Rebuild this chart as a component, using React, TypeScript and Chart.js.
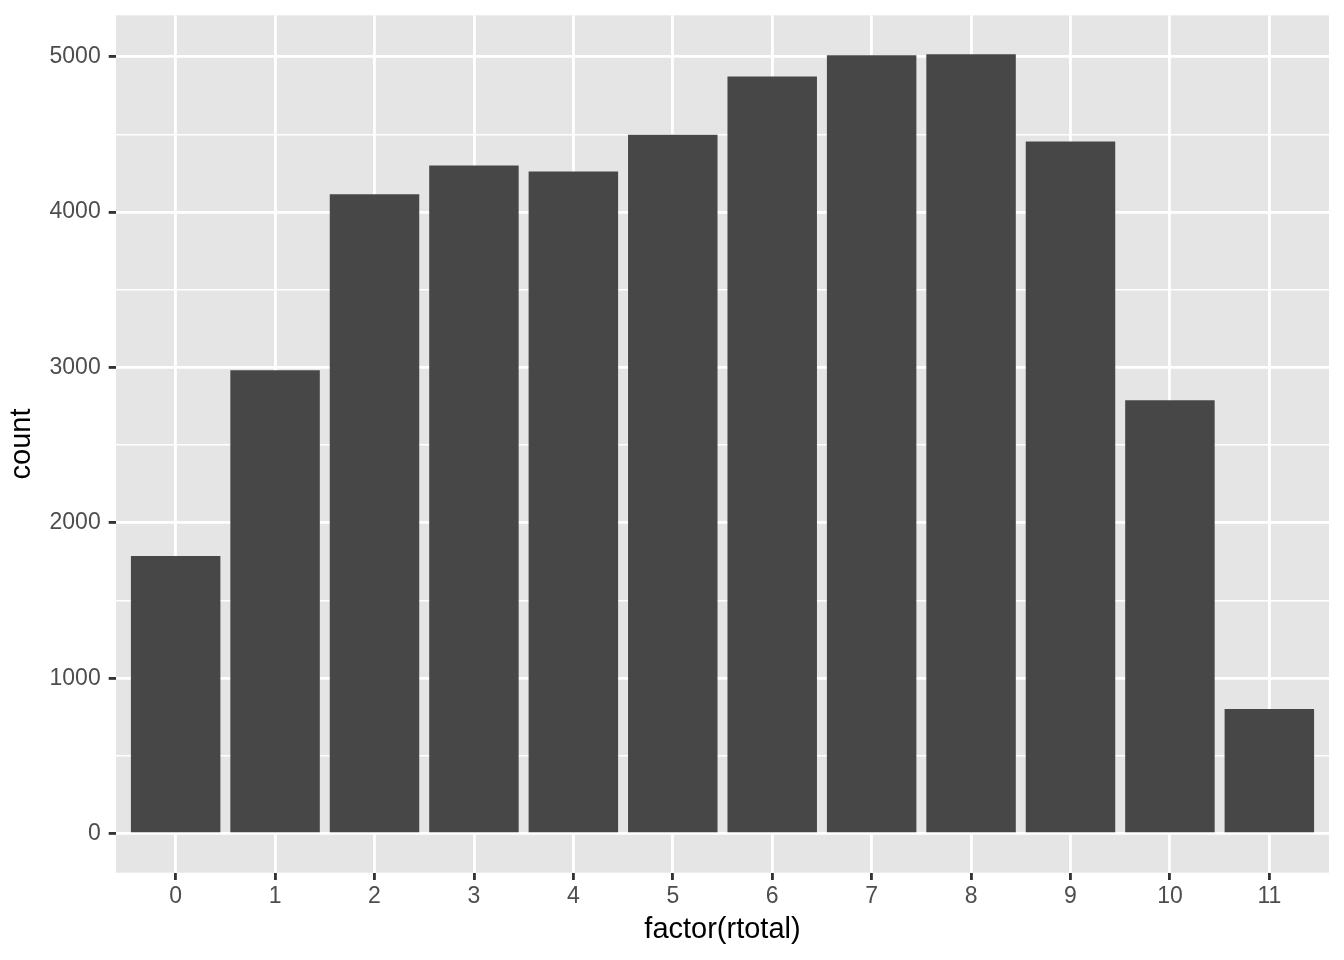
import React, { useEffect, useRef } from "react";
import { Chart, registerables } from "chart.js";

Chart.register(...registerables);

const categories: string[] = ["0", "1", "2", "3", "4", "5", "6", "7", "8", "9", "10", "11"];
const counts: number[] = [1787, 2982, 4114, 4300, 4261, 4498, 4872, 5008, 5015, 4454, 2789, 802];
const yTicks: number[] = [0, 500, 1000, 1500, 2000, 2500, 3000, 3500, 4000, 4500, 5000];
const xTitle = "factor(rtotal)";
const yTitle = "count";

const FONT = "'Liberation Sans', Arial, Helvetica, sans-serif";
const MAJOR_W = 2.84;
const MINOR_W = 1.42;

const panelBg = {
  id: "panelBg",
  beforeDraw(chart: any) {
    const { ctx, chartArea } = chart;
    ctx.save();
    ctx.fillStyle = "#E5E5E5";
    ctx.fillRect(chartArea.left, chartArea.top, chartArea.right - chartArea.left, chartArea.bottom - chartArea.top);
    ctx.restore();
  },
};

const zeroPad = (scale: any) => {
  scale.paddingTop = 0;
  scale.paddingBottom = 0;
  scale.paddingLeft = 0;
  scale.paddingRight = 0;
};

export default function App() {
  const ref = useRef<HTMLCanvasElement | null>(null);

  useEffect(() => {
    if (!ref.current) return;
    const maxV = Math.max(...counts);
    const yMin = -0.05 * maxV;
    const yMax = maxV * 1.05;
    const chart = new Chart(ref.current, {
      type: "bar",
      data: {
        datasets: [
          {
            data: counts.map((v, i) => ({ x: i, y: v })),
            backgroundColor: "#474747",
            borderWidth: 0,
            barPercentage: 0.9,
            categoryPercentage: 1,
          },
        ],
      },
      plugins: [panelBg],
      options: {
        responsive: false,
        animation: false,
        events: [],
        layout: { padding: { top: 15.3, right: 15, left: 0, bottom: 0 } },
        plugins: { legend: { display: false }, tooltip: { enabled: false } },
        scales: {
          x: {
            type: "linear",
            offset: false,
            min: -0.6,
            max: categories.length - 1 + 0.6,
            afterBuildTicks: (axis: any) => {
              axis.ticks = categories.map((_, i) => ({ value: i }));
            },
            afterFit: (scale: any) => {
              scale.height = 960 - 872.7;
              zeroPad(scale);
            },
            border: { display: false },
            grid: {
              offset: false,
              color: "#FFFFFF",
              lineWidth: MAJOR_W,
              tickColor: "#333333",
              tickLength: 7.3,
              tickWidth: MAJOR_W,
            },
            ticks: {
              autoSkip: false,
              maxRotation: 0,
              padding: 3,
              color: "#4D4D4D",
              font: { family: FONT, size: 23 },
              callback: (v: any) => categories[Math.round(Number(v))] ?? "",
            },
            title: {
              display: true,
              text: xTitle,
              color: "#000000",
              font: { family: FONT, size: 29 },
              padding: { top: 0, bottom: 13 },
            },
          },
          y: {
            type: "linear",
            min: yMin,
            max: yMax,
            afterBuildTicks: (axis: any) => {
              axis.ticks = yTicks.map((v) => ({ value: v }));
            },
            afterFit: (scale: any) => {
              scale.width = 116;
              zeroPad(scale);
            },
            border: { display: false },
            grid: {
              color: "#FFFFFF",
              lineWidth: (ctx: any) => (ctx.tick && ctx.tick.value % 1000 === 0 ? MAJOR_W : MINOR_W),
              tickColor: (ctx: any) => (ctx.tick && ctx.tick.value % 1000 === 0 ? "#333333" : "rgba(0,0,0,0)"),
              tickLength: 7.3,
              tickWidth: MAJOR_W,
            },
            ticks: {
              autoSkip: false,
              padding: 8,
              color: "#4D4D4D",
              font: { family: FONT, size: 23 },
              callback: (v: any) => (Number(v) % 1000 === 0 ? String(v) : ""),
            },
            title: {
              display: true,
              text: yTitle,
              color: "#000000",
              font: { family: FONT, size: 29 },
              padding: { top: 5, bottom: 0 },
            },
          },
        },
      },
    } as any);
    return () => chart.destroy();
  }, []);

  return (
    <div style={{ position: "absolute", left: 0, top: 0, width: 1344, height: 960, background: "#FFFFFF" }}>
      <canvas ref={ref} width={1344} height={960} style={{ display: "block", width: 1344, height: 960 }} />
    </div>
  );
}
